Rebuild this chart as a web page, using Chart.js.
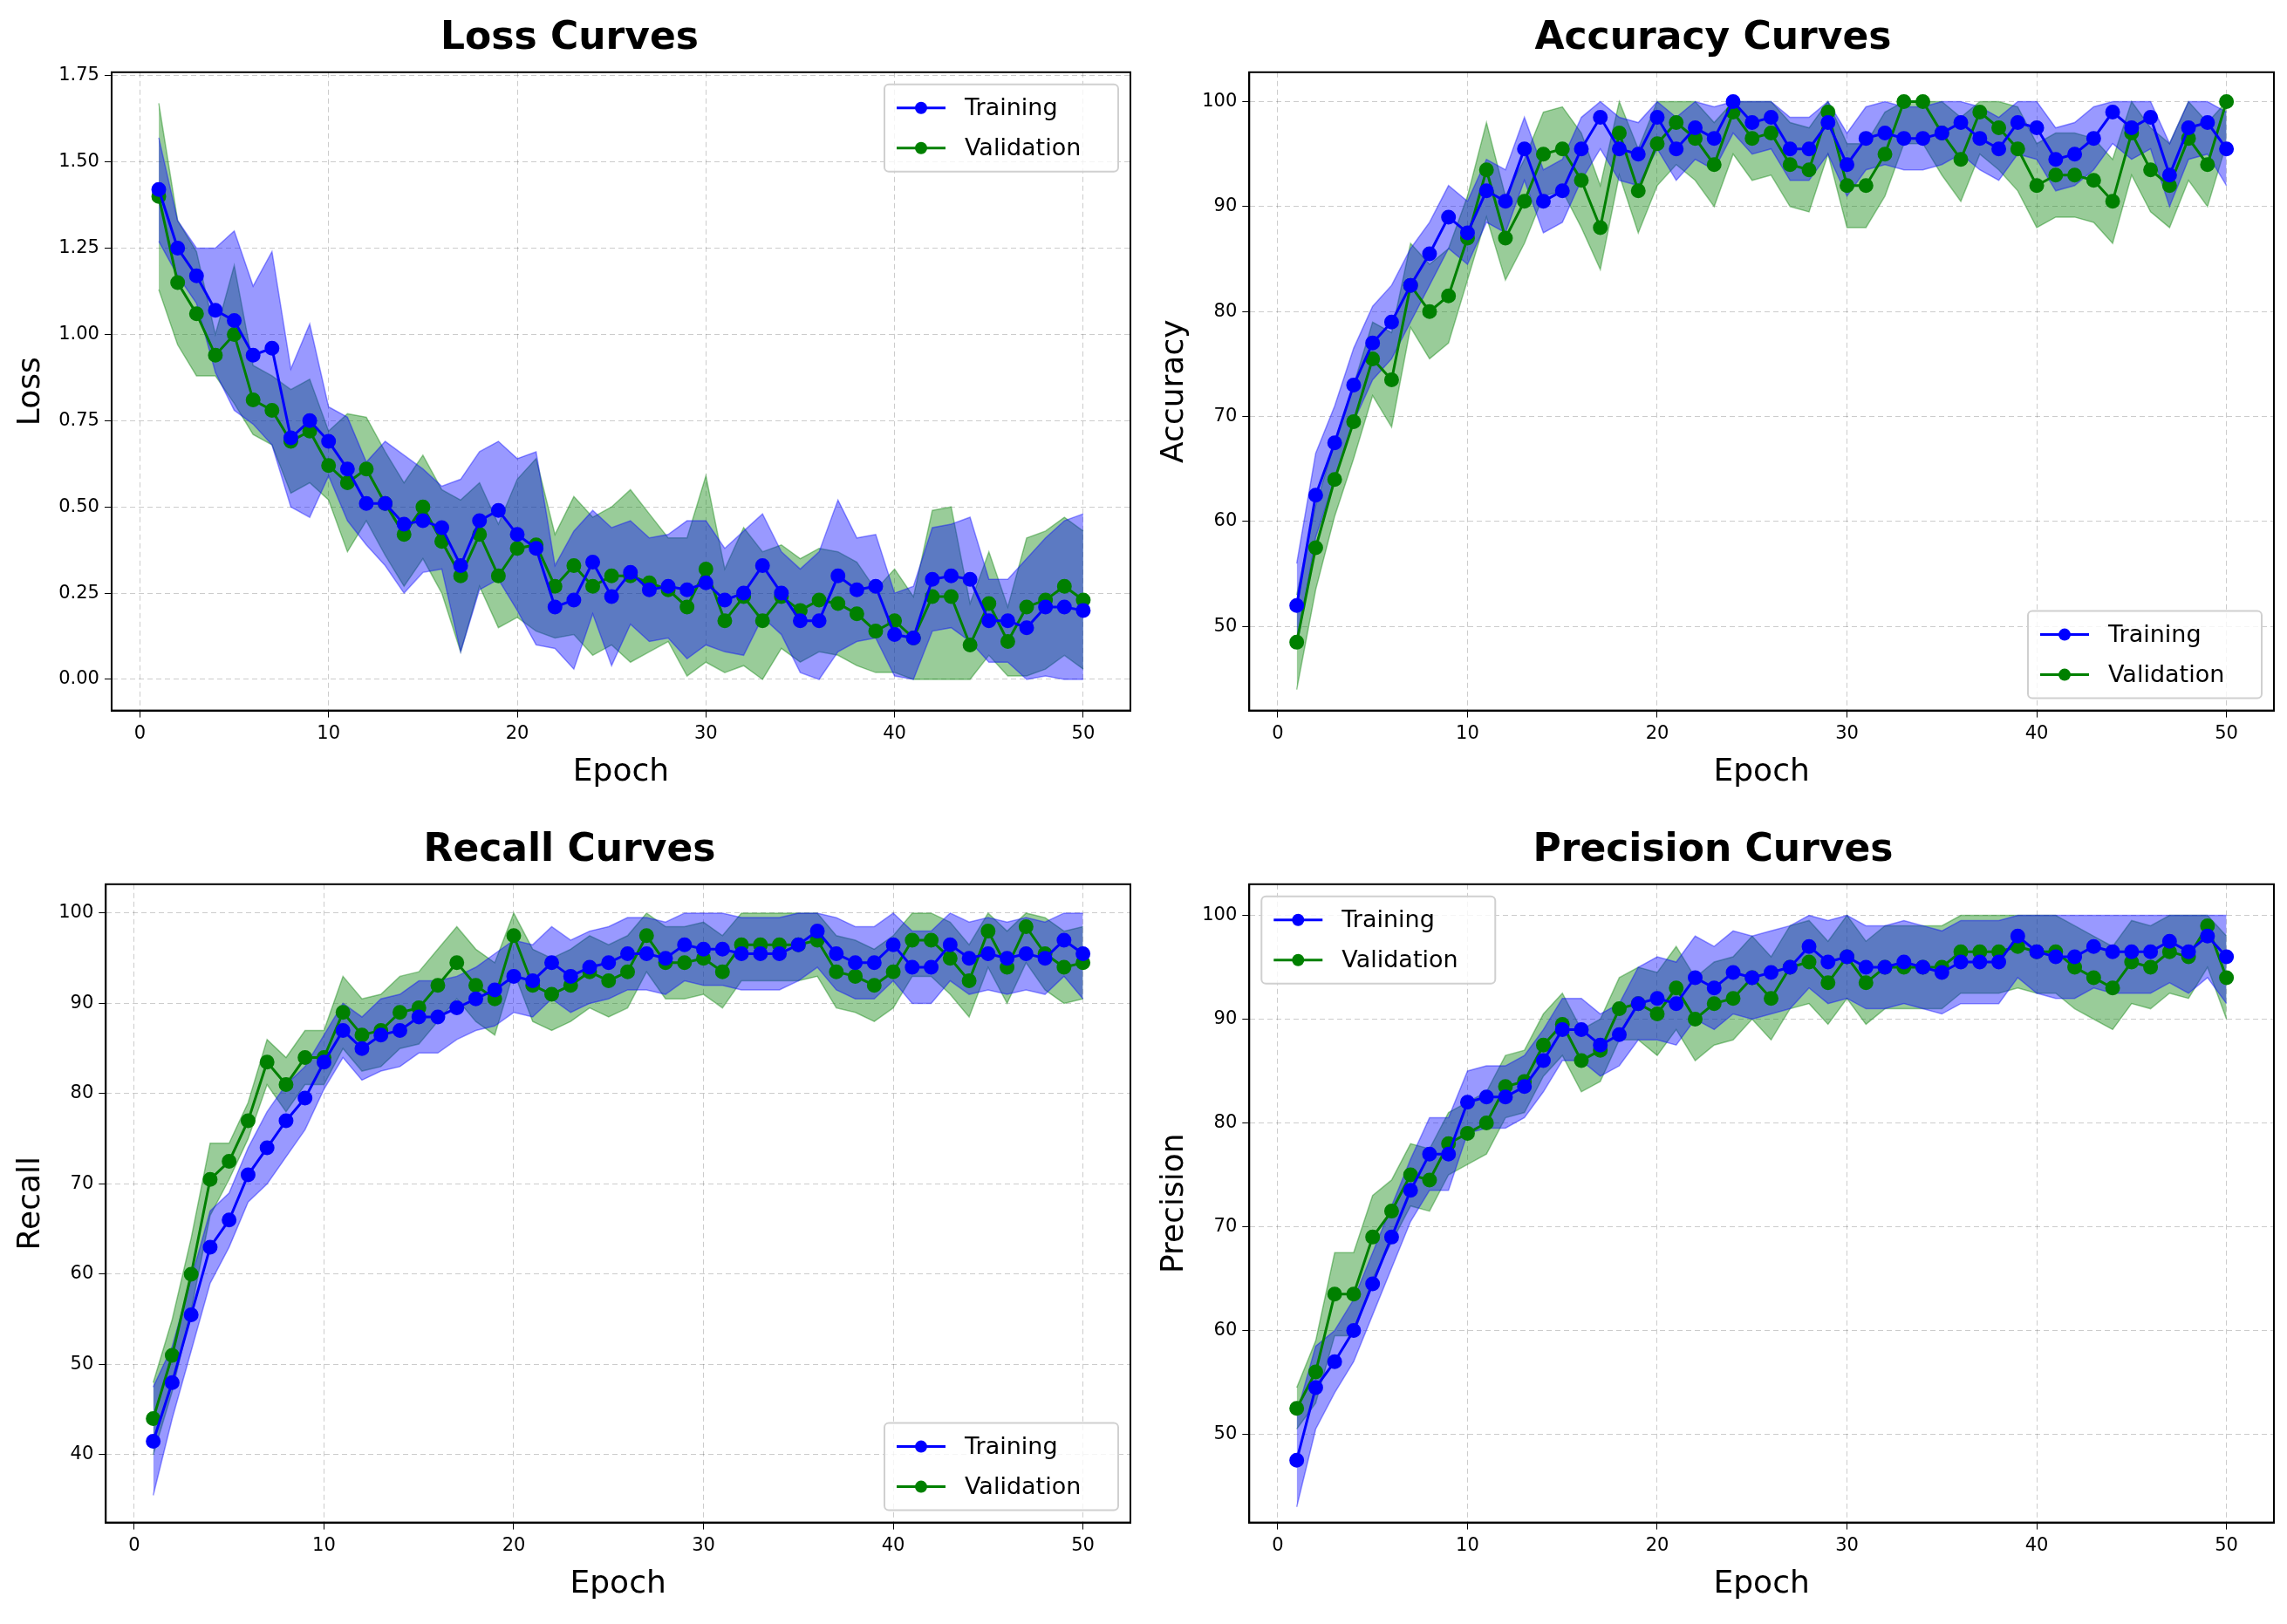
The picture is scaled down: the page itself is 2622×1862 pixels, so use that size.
<!DOCTYPE html>
<html>
<head>
<meta charset="utf-8">
<script src="https://cdn.jsdelivr.net/npm/chart.js@4.4.0/dist/chart.umd.min.js"></script>
<style>
  body { margin: 0; background: #fff; }
  #grid { display: grid; grid-template-columns: 1311px 1311px; grid-template-rows: 931px 931px; width: 2622px; height: 1862px; }
  .cell { position: relative; width: 1311px; height: 931px; }
</style>
</head>
<body>
<div id="grid">
  <div class="cell"><canvas id="c0"></canvas></div>
  <div class="cell"><canvas id="c1"></canvas></div>
  <div class="cell"><canvas id="c2"></canvas></div>
  <div class="cell"><canvas id="c3"></canvas></div>
</div>
<script>
const epochs = Array.from({ length: 50 }, (_, i) => i + 1);
const xTicks = [0, 10, 20, 30, 40, 50];

const lossTrain = [1.42,1.25,1.17,1.07,1.04,0.94,0.96,0.70,0.75,0.69,0.61,0.51,0.51,0.45,0.46,0.44,0.33,0.46,0.49,0.42,0.38,0.21,0.23,0.34,0.24,0.31,0.26,0.27,0.26,0.28,0.23,0.25,0.33,0.25,0.17,0.17,0.30,0.26,0.27,0.13,0.12,0.29,0.30,0.29,0.17,0.17,0.15,0.21,0.21,0.20];
const lossVal = [1.40,1.15,1.06,0.94,1.00,0.81,0.78,0.69,0.72,0.62,0.57,0.61,0.51,0.42,0.50,0.40,0.30,0.42,0.30,0.38,0.39,0.27,0.33,0.27,0.30,0.30,0.28,0.26,0.21,0.32,0.17,0.24,0.17,0.24,0.20,0.23,0.22,0.19,0.14,0.17,0.12,0.24,0.24,0.10,0.22,0.11,0.21,0.23,0.27,0.23];
const lossTrainSd = [0.15,0.08,0.08,0.18,0.26,0.20,0.28,0.20,0.28,0.10,0.15,0.12,0.18,0.20,0.15,0.12,0.25,0.20,0.20,0.22,0.28,0.12,0.20,0.15,0.20,0.15,0.15,0.15,0.20,0.18,0.15,0.18,0.15,0.12,0.15,0.20,0.22,0.15,0.15,0.12,0.15,0.15,0.15,0.18,0.12,0.12,0.20,0.20,0.25,0.28];
const lossValSd = [0.27,0.18,0.18,0.06,0.20,0.10,0.10,0.15,0.15,0.10,0.20,0.15,0.15,0.15,0.15,0.15,0.22,0.15,0.15,0.20,0.25,0.15,0.20,0.20,0.20,0.25,0.20,0.15,0.20,0.27,0.15,0.20,0.20,0.15,0.15,0.15,0.15,0.15,0.12,0.15,0.12,0.25,0.26,0.12,0.15,0.10,0.20,0.20,0.20,0.20];

const accTrain = [52,62.5,67.5,73,77,79,82.5,85.5,89,87.5,91.5,90.5,95.5,90.5,91.5,95.5,98.5,95.5,95,98.5,95.5,97.5,96.5,100,98,98.5,95.5,95.5,98,94,96.5,97,96.5,96.5,97,98,96.5,95.5,98,97.5,94.5,95,96.5,99,97.5,98.5,93,97.5,98,95.5];
const accVal = [48.5,57.5,64,69.5,75.5,73.5,82.5,80,81.5,87,93.5,87,90.5,95,95.5,92.5,88,97,91.5,96,98,96.5,94,99,96.5,97,94,93.5,99,92,92,95,100,100,97,94.5,99,97.5,95.5,92,93,93,92.5,90.5,97,93.5,92,96.5,94,100];
const accTrainSd = [4,4,3.5,3.5,3.5,3.5,3.5,3,3,3,3,3,3,3,3,3,3,3,3,3,3,3,3,3,3,3,3,3,3,3,3,3,3,3,3,3,3,3,3,3,3,3,3,3,3,3,3,3,3,3.5];
const accValSd = [4.5,4,3.5,3.5,3.5,4.5,4,4.5,4.5,4,4.5,4,4,4,4,4.5,4,4,4,4,4,4,4,4,4,4,4,4,4,4,4,4,4,4,4,4,4,4,4,4,4,4,4,4,4,4,4,4,4,4];

const recTrain = [41.5,48,55.5,63,66,71,74,77,79.5,83.5,87,85,86.5,87,88.5,88.5,89.5,90.5,91.5,93,92.5,94.5,93,94,94.5,95.5,95.5,95,96.5,96,96,95.5,95.5,95.5,96.5,98,95.5,94.5,94.5,96.5,94,94,96.5,95,95.5,95,95.5,95,97,95.5];
const recVal = [44,51,60,70.5,72.5,77,83.5,81,84,84,89,86.5,87,89,89.5,92,94.5,92,90.5,97.5,92,91,92,93.5,92.5,93.5,97.5,94.5,94.5,95,93.5,96.5,96.5,96.5,96.5,97,93.5,93,92,93.5,97,97,95,92.5,98,94,98.5,95.5,94,94.5];
const recTrainSd = [6,4,4,4,3,3,4,4,3.5,3,3,3.5,4,4,4,4,3.5,3.5,4,4,4,4,4,4,4,4,4,4,4,4,4,4,4,4,4,4,4,4,4,4,4,4,4,4,4,4,4,4,4,5];
const recValSd = [4,4,4,4,2,2,2.5,3,3,3,4,4,4,4,4,4,4,4,4,4,4,4,4,4,4,4,4,4,4,4,4,4,4,4,4,4,4,4,4,4,4,4,4,4,4,4,4,4,4,4];

const precTrain = [47.5,54.5,57,60,64.5,69,73.5,77,77,82,82.5,82.5,83.5,86,89,89,87.5,88.5,91.5,92,91.5,94,93,94.5,94,94.5,95,97,95.5,96,95,95,95.5,95,94.5,95.5,95.5,95.5,98,96.5,96,96,97,96.5,96.5,96.5,97.5,96.5,98,96];
const precVal = [52.5,56,63.5,63.5,69,71.5,75,74.5,78,79,80,83.5,84,87.5,89.5,86,87,91,91.5,90.5,93,90,91.5,92,94,92,95,95.5,93.5,96,93.5,95,95,95,95,96.5,96.5,96.5,97,96.5,96.5,95,94,93,95.5,95,96.5,96,99,94];
const precTrainSd = [4.5,4,3,3,3,3,3,3.5,3.5,3,3,3,3,3,3,3,3,3,3.5,4,4,4,4,4,4,4,4,4,4,4,4,4,4,4,4,4,4,4,4,4,4,4,4,4,4,4,4,4,4,4.5];
const precValSd = [2,3,4,4,4,3,3,3,3,3,3,3,3,3,3,3,3,3,3.5,4,4,4,4,4,4,4,4,4,4,4,4,4,4,4,4,4,4,4,4,4,4,4,4,4,4,4,4,4,4,4];

const FONT = 'DejaVu Sans';

// legend drawn inside the plot area, matplotlib style
const innerLegend = {
  id: 'innerLegend',
  afterDraw(chart, args, opts) {
    const ctx = chart.ctx, a = chart.chartArea;
    const items = [['Training', 'blue'], ['Validation', 'green']];
    ctx.save();
    ctx.font = '27px ' + FONT;
    const w = 268, h = 100, m = 14;
    let x = opts.corner.includes('right') ? a.right - w - m : a.left + m;
    let y = opts.corner.includes('top') ? a.top + m : a.bottom - h - m;
    ctx.fillStyle = 'rgba(255,255,255,0.8)';
    ctx.strokeStyle = '#d0d0d0';
    ctx.lineWidth = 2;
    ctx.beginPath();
    ctx.roundRect(x, y, w, h, 5);
    ctx.fill();
    ctx.stroke();
    items.forEach(([label, color], i) => {
      const cy = y + 27 + i * 46;
      ctx.strokeStyle = color;
      ctx.fillStyle = color;
      ctx.lineWidth = 3;
      ctx.beginPath(); ctx.moveTo(x + 14, cy); ctx.lineTo(x + 70, cy); ctx.stroke();
      ctx.beginPath(); ctx.arc(x + 42, cy, 7, 0, Math.PI * 2); ctx.fill();
      ctx.fillStyle = '#000';
      ctx.textBaseline = 'middle';
      ctx.fillText(label, x + 92, cy + 1);
    });
    ctx.restore();
  }
};

function band(mean, sd, sign, lo, hi) {
  return mean.map((m, i) => Math.min(hi, Math.max(lo, m + sign * sd[i])));
}

function makeChart(id, title, yLabel, train, trainSd, val, valSd, yMin, yMax, yTicks, lo, hi, corner, fmt) {
  const line = (label, data, color) => ({
    label, data, borderColor: color, backgroundColor: color, borderWidth: 3,
    pointRadius: 7, pointHoverRadius: 7, fill: false, tension: 0, order: 0
  });
  const bandSet = (data, color, stroke, fill) => ({
    label: '', data, borderColor: stroke, backgroundColor: color, borderWidth: 1.5,
    pointRadius: 0, fill, tension: 0, order: 1
  });
  new Chart(document.getElementById(id), {
    type: 'line',
    data: {
      labels: epochs,
      datasets: [
        bandSet(band(train, trainSd, 1, lo, hi), 'rgba(0,0,255,0.4)', 'rgba(0,0,255,0.4)', '+1'),
        bandSet(band(train, trainSd, -1, lo, hi), 'rgba(0,0,255,0.4)', 'rgba(0,0,255,0.4)', false),
        bandSet(band(val, valSd, 1, lo, hi), 'rgba(0,128,0,0.4)', 'rgba(0,128,0,0.4)', '+1'),
        bandSet(band(val, valSd, -1, lo, hi), 'rgba(0,128,0,0.4)', 'rgba(0,128,0,0.4)', false),
        line('Training', train, 'blue'),
        line('Validation', val, 'green')
      ].map(d => ({ ...d, data: d.data.map((y, i) => ({ x: epochs[i], y })) }))
    },
    plugins: [innerLegend],
    options: {
      responsive: false,
      animation: false,
      layout: { padding: { top: 10, right: 15, bottom: 20, left: 10 } },
      plugins: {
        legend: { display: false },
        tooltip: { enabled: false },
        innerLegend: { corner },
        title: { display: true, text: title, font: { family: FONT, size: 44 }, color: '#000', padding: { top: 8, bottom: 12 } }
      },
      scales: {
        x: {
          type: 'linear', min: -1.5, max: 52.5,
          afterBuildTicks: ax => { ax.ticks = xTicks.map(v => ({ value: v })); },
          ticks: { font: { family: FONT, size: 21 }, color: '#000', padding: 6 },
          grid: { color: 'rgba(0,0,0,0.2)', tickColor: '#000', tickLength: 8 },
          border: { color: '#000', width: 2, dash: [6, 4] },
          title: { display: true, text: 'Epoch', font: { family: FONT, size: 36 }, color: '#000', padding: { top: 4 } }
        },
        y: {
          min: yMin, max: yMax,
          afterBuildTicks: ax => { ax.ticks = yTicks.map(v => ({ value: v })); },
          ticks: { font: { family: FONT, size: 21 }, color: '#000', padding: 6, callback: fmt },
          grid: { color: 'rgba(0,0,0,0.2)', tickColor: '#000', tickLength: 8 },
          border: { color: '#000', width: 2, dash: [6, 4] },
          title: { display: true, text: yLabel, font: { family: FONT, size: 36 }, color: '#000' }
        }
      }
    }
  });
}

['c0', 'c1', 'c2', 'c3'].forEach(id => { const c = document.getElementById(id); c.width = 1311; c.height = 931; });

// solid frame around each plot area
Chart.register({
  id: 'frame',
  afterDraw(chart) {
    const a = chart.chartArea, ctx = chart.ctx;
    ctx.save(); ctx.strokeStyle = '#000'; ctx.lineWidth = 2;
    ctx.strokeRect(a.left, a.top, a.right - a.left, a.bottom - a.top);
    ctx.restore();
  }
});

makeChart('c0', 'Loss Curves', 'Loss', lossTrain, lossTrainSd, lossVal, lossValSd, -0.09, 1.76,
  [0, 0.25, 0.5, 0.75, 1.0, 1.25, 1.5, 1.75], 0, 10, 'top-right', v => v.toFixed(2));
makeChart('c1', 'Accuracy Curves', 'Accuracy', accTrain, accTrainSd, accVal, accValSd, 42, 102.8,
  [50, 60, 70, 80, 90, 100], 0, 100, 'bottom-right', v => v);
makeChart('c2', 'Recall Curves', 'Recall', recTrain, recTrainSd, recVal, recValSd, 32.5, 103.2,
  [40, 50, 60, 70, 80, 90, 100], 0, 100, 'bottom-right', v => v);
makeChart('c3', 'Precision Curves', 'Precision', precTrain, precTrainSd, precVal, precValSd, 41.5, 103,
  [50, 60, 70, 80, 90, 100], 0, 100, 'top-left', v => v);
</script>
</body>
</html>
